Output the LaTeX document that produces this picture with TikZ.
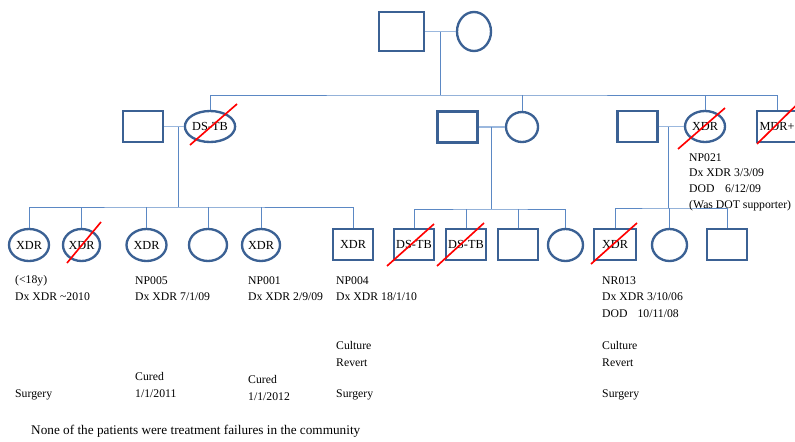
\documentclass[tikz,border=0pt]{standalone}
\usepackage{fontspec}
\setmainfont{Liberation Serif}
\usetikzlibrary{shapes.geometric}
\definecolor{outl}{HTML}{3B6194}
\definecolor{kincol}{HTML}{5B88C4}
\definecolor{matecol}{HTML}{9BB8DE}
\newcommand\notefont{\fontsize{10}{14.3}\selectfont}
\newcommand\crossout[3]{\draw[redline] ([shift={(#2)}]#1.center) -- ([shift={(#3)}]#1.center);}
\begin{document}
\begin{tikzpicture}[x=0.03cm,y=-0.03cm,font=\fontsize{10.5}{14}\selectfont,
  male/.style={draw=outl,line width=2pt,fill=white,inner sep=0pt,minimum width=1.2cm,minimum height=.93cm},
  female/.style={ellipse,draw=outl,line width=2pt,fill=white,inner sep=0pt,minimum width=1.2cm,minimum height=.96cm},
  mate/.style={matecol,line width=1.3pt},
  kin/.style={kincol,line width=.8pt},
  redline/.style={red,line width=1.4pt},
  note/.style={anchor=north west,align=left,inner sep=0pt,font=\notefont}]
\useasboundingbox (0,0) rectangle (795,441);
\node[male,minimum width=1.35cm,minimum height=1.17cm] (g1m) at (401.5,31.5) {};
\node[female,minimum width=1.02cm,minimum height=1.17cm] (g1f) at (474,31.5) {};
\node[male] (a1) at (143,126.5) {};
\node[female,minimum width=1.08cm,minimum height=.93cm] (a2) at (210,126.5) {DS-TB};
\node[male] (b1) at (457.5,127) {};
\node[female,minimum width=.96cm,minimum height=.9cm] (b2) at (522,127) {};
\node[male] (c1) at (637.5,126.5) {};
\node[female,minimum width=1.2cm,minimum height=.93cm] (c2) at (705,126.5) {XDR};
\node[male] (c3) at (777,126.5) {MDR+};
\node[female] (k1) at (29,245) {XDR};
\node[female,minimum width=1.11cm] (k2) at (81.5,245) {XDR};
\node[female] (k3) at (146.5,245) {XDR};
\node[female,minimum width=1.14cm] (k4) at (208,245) {};
\node[female,minimum width=1.14cm] (k5) at (261,245) {XDR};
\node[male] (k6) at (353,244.5) {XDR};
\node[male] (k7) at (414,244.5) {DS-TB};
\node[male] (k8) at (466,244.5) {DS-TB};
\node[male] (k9) at (518,244.5) {};
\node[female,minimum width=1.05cm] (k10) at (565.5,245) {};
\node[male,minimum width=1.26cm] (k11) at (615,244.5) {XDR};
\node[female,minimum width=1.05cm] (k12) at (669.5,245) {};
\node[male] (k13) at (727,244.5) {};
\draw[mate] (g1m) -- (g1f);
\draw[mate] (a1) -- (a2);
\draw[mate] (b1) -- (b2);
\draw[mate] (c1) -- (c2);
\coordinate (u0) at (440.5,31.5);
\coordinate (s0) at (440.5,95);
\draw[kin] (u0) -- (s0);
\draw[kin] (a2.north) |- (s0) -| (c3.north);
\foreach \k in {b2,c2} \draw[kin] (\k.north) -- (\k.north |- s0);
\coordinate (u1) at (178,126.5);
\coordinate (s1) at (178,207);
\draw[kin] (u1) -- (s1);
\draw[kin] (k1.north) |- (s1) -| (k6.north);
\foreach \k in {k2,k3,k4,k5} \draw[kin] (\k.north) -- (\k.north |- s1);
\coordinate (u2) at (491,127);
\coordinate (s2) at (491,209);
\draw[kin] (u2) -- (s2);
\draw[kin] (k7.north) |- (s2) -| (k10.north);
\foreach \k in {k8,k9} \draw[kin] (\k.north) -- (\k.north |- s2);
\coordinate (u3) at (668,126.5);
\coordinate (s3) at (668,208);
\draw[kin] (u3) -- (s3);
\draw[kin] (k11.north) |- (s3) -| (k13.north);
\draw[kin] (k12.north) -- (k12.north |- s3);
\crossout{a2}{-20,18.5}{27,-22.5}
\crossout{c2}{-27,22.5}{20,-18.5}
\crossout{c3}{-20,17.5}{25,-27}
\crossout{k2}{-14.5,18}{19.5,-23}
\crossout{k7}{-27,21.5}{20,-20.5}
\crossout{k8}{-29,21.5}{18,-21.5}
\crossout{k11}{-24,19.5}{22,-21.5}
\node[note] (t1) at (15,275) {(<18y)\\Dx XDR \textasciitilde2010};
\node[note] (t2) at (135,276) {NP005\\Dx XDR 7/1/09};
\node[note] (t3) at (248,276) {NP001\\Dx XDR 2/9/09};
\node[note] (t4) at (336,276) {NP004\\Dx XDR 18/1/10};
\node[note] (t5) at (602,276) {NR013\\Dx XDR 3/10/06\\DOD\hspace{8.5pt}10/11/08};
\node[note,font=\fontsize{10}{13.6}\selectfont] (t6) at (689,153) {NP021\\Dx XDR 3/3/09\\DOD\hspace{9pt}6/12/09\\(Was DOT supporter)};
\node[note] (t7) at (336,341) {Culture\\Revert};
\node[note] (t8) at (602,341) {Culture\\Revert};
\node[note] (t9) at (15,389) {Surgery};
\node[note] (t10) at (336,389) {Surgery};
\node[note] (t11) at (602,389) {Surgery};
\node[note] (t12) at (135,372) {Cured\\1/1/2011};
\node[note] (t13) at (248,375) {Cured\\1/1/2012};
\node[note,font=\fontsize{11.3}{14}\selectfont] (t14) at (31,425) {None of the patients were treatment failures in the community};
\end{tikzpicture}
\end{document}
